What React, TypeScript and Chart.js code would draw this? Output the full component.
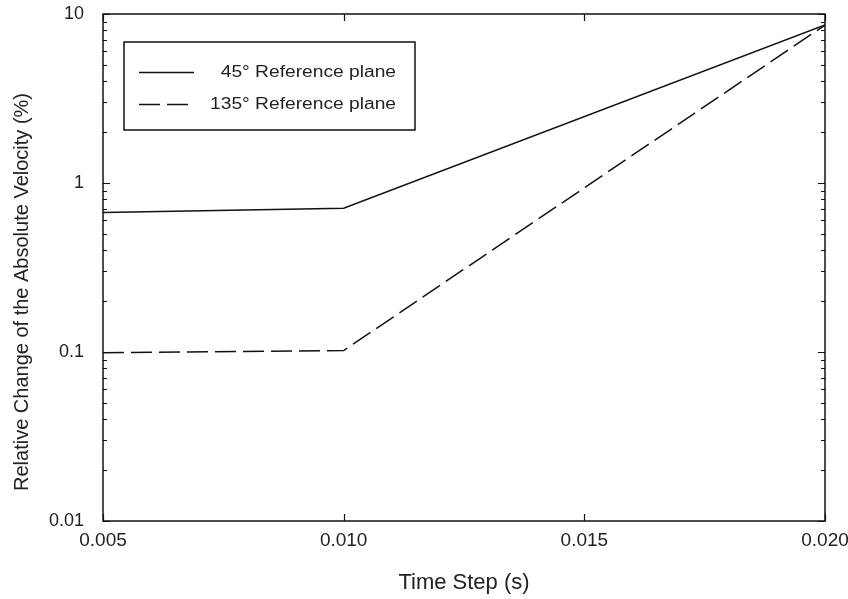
import React, { useEffect, useRef } from "react";
import { Chart, registerables } from "chart.js";

Chart.register(...registerables);

const timeStep = [0.005, 0.01, 0.02];
const plane45 = [0.67, 0.71, 8.6];
const plane135 = [0.099, 0.102, 8.6];
const xTicks = [0.005, 0.01, 0.015, 0.02];
const yTicks = [0.01, 0.1, 1, 10];
const seriesLabels = ["45° Reference plane", "135° Reference plane"];
const xTitle = "Time Step (s)";
const yTitle = "Relative Change of the Absolute Velocity (%)";

const FONT = "'Liberation Sans', Arial, sans-serif";
const TEXT = "#222";

const framePlugin = {
  id: "frame",
  afterDatasetsDraw(chart: any) {
    const { ctx, chartArea: a, scales } = chart;
    const xs = scales.x;
    const ys = scales.y;
    ctx.save();
    ctx.strokeStyle = "#111";
    ctx.lineWidth = 1.5;
    ctx.strokeRect(a.left, a.top, a.right - a.left, a.bottom - a.top);
    ctx.lineWidth = 1.2;
    ctx.beginPath();
    for (let d = 0; d < yTicks.length; d++) {
      const base = yTicks[d];
      for (let m = 1; m <= 9; m++) {
        const v = base * m;
        if (d === yTicks.length - 1 && m > 1) continue;
        const py = Math.round(ys.getPixelForValue(v)) + 0.5;
        const len = m === 1 ? 7 : 4;
        ctx.moveTo(a.left, py);
        ctx.lineTo(a.left + len, py);
        ctx.moveTo(a.right, py);
        ctx.lineTo(a.right - len, py);
      }
    }
    for (const t of xTicks) {
      const px = Math.round(xs.getPixelForValue(t)) + 0.5;
      ctx.moveTo(px, a.bottom);
      ctx.lineTo(px, a.bottom - 7);
      ctx.moveTo(px, a.top);
      ctx.lineTo(px, a.top + 7);
    }
    ctx.stroke();

    // y axis title
    ctx.save();
    ctx.fillStyle = TEXT;
    ctx.font = `20px ${FONT}`;
    ctx.textAlign = "center";
    ctx.textBaseline = "middle";
    ctx.translate(22, 292);
    ctx.rotate(-Math.PI / 2);
    ctx.fillText(yTitle, 0, 0);
    ctx.restore();

    // legend
    const bx = 124, by = 42, bw = 291, bh = 88;
    ctx.lineWidth = 1.5;
    ctx.strokeStyle = "#111";
    ctx.strokeRect(bx, by, bw, bh);
    const rows = [72, 104];
    chart.data.datasets.forEach((ds: any, i: number) => {
      const y = rows[i];
      ctx.save();
      ctx.strokeStyle = ds.borderColor;
      ctx.lineWidth = ds.borderWidth;
      ctx.setLineDash(ds.borderDash || []);
      ctx.beginPath();
      ctx.moveTo(139, y + 0.5);
      ctx.lineTo(i === 0 ? 194 : 190, y + 0.5);
      ctx.stroke();
      ctx.restore();
      ctx.save();
      ctx.fillStyle = TEXT;
      ctx.font = `16px ${FONT}`;
      ctx.textAlign = "right";
      ctx.textBaseline = "middle";
      ctx.translate(396, y + 1);
      ctx.scale(1.2, 1);
      ctx.fillText(ds.label, 0, 0);
      ctx.restore();
    });
    ctx.restore();
  },
};

export default function App() {
  const ref = useRef<HTMLCanvasElement | null>(null);
  useEffect(() => {
    document.body.style.margin = "0";
    const canvas = ref.current!;
    const chart = new Chart(canvas, {
      type: "line",
      data: {
        datasets: [
          {
            label: seriesLabels[0],
            data: timeStep.map((x, i) => ({ x, y: plane45[i] })),
            borderColor: "#111",
            borderWidth: 1.5,
            pointRadius: 0,
            tension: 0,
            fill: false,
          },
          {
            label: seriesLabels[1],
            data: timeStep.map((x, i) => ({ x, y: plane135[i] })),
            borderColor: "#111",
            borderWidth: 1.5,
            borderDash: [21, 7],
            pointRadius: 0,
            tension: 0,
            fill: false,
          },
        ],
      },
      options: {
        animation: false,
        responsive: false,
        devicePixelRatio: 1,
        layout: { padding: { top: 14, right: 23, left: 0, bottom: 0 } },
        plugins: {
          legend: { display: false },
          tooltip: { enabled: false },
        },
        scales: {
          x: {
            type: "linear",
            min: 0.005,
            max: 0.02,
            afterBuildTicks: (s: any) => {
              s.ticks = xTicks.map((v) => ({ value: v }));
            },
            afterFit: (s: any) => {
              s.height = 78;
              s.paddingLeft = 0;
              s.paddingRight = 0;
            },
            grid: { display: false },
            border: { display: false },
            ticks: {
              padding: 0,
              maxRotation: 0,
              autoSkip: false,
              color: TEXT,
              font: { family: FONT, size: 19 },
              callback: (v: any) => Number(v).toFixed(3),
            },
            title: {
              display: true,
              text: xTitle,
              color: TEXT,
              font: { family: FONT, size: 22 },
              padding: { top: 0, bottom: 3 },
            },
          },
          y: {
            type: "logarithmic",
            min: 0.01,
            max: 10,
            afterBuildTicks: (s: any) => {
              s.ticks = yTicks.map((v) => ({ value: v }));
            },
            afterFit: (s: any) => {
              s.width = 103;
              s.paddingTop = 0;
              s.paddingBottom = 0;
            },
            grid: { display: false },
            border: { display: false },
            ticks: {
              padding: 11,
              autoSkip: false,
              color: TEXT,
              font: { family: FONT, size: 18 },
              callback: (v: any) => String(Number(v)),
            },
          },
        },
      },
      plugins: [framePlugin],
    } as any);
    return () => chart.destroy();
  }, []);
  return (
    <div style={{ width: 848, height: 599, background: "#fff" }}>
      <canvas ref={ref} width={848} height={599} style={{ display: "block" }} />
    </div>
  );
}
